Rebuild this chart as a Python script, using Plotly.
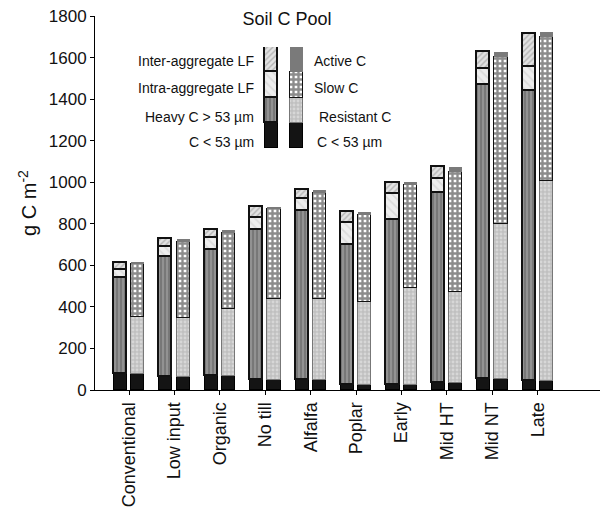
import plotly.graph_objects as go

# ---------------- data ----------------
categories = ["Conventional", "Low input", "Organic", "No till", "Alfalfa",
              "Poplar", "Early", "Mid HT", "Mid NT", "Late"]

# left bar (physical fractions), g C m-2
fine_c = [77, 61, 65, 50, 46, 22, 24, 36, 52, 42]          # C < 53 um
heavy_c = [461, 577, 610, 721, 817, 677, 795, 912, 1415, 1396]
intra_lf = [40, 50, 56, 59, 55, 105, 122, 69, 79, 116]
inter_lf = [35, 40, 40, 50, 46, 55, 55, 56, 80, 160]

# right bar (model pools), g C m-2
resistant_c = [273, 284, 324, 389, 393, 401, 469, 435, 748, 966]
slow_c = [257, 367, 366, 432, 509, 419, 495, 578, 803, 692]
active_c = [10, 15, 15, 12, 16, 16, 13, 24, 26, 22]

y_ticks = [0, 200, 400, 600, 800, 1000, 1200, 1400, 1600, 1800]

# ---------------- layout helpers ----------------
W, H = 608, 510
ML, MR, MT, MB = 95, 8, 16, 120
PW, PH = W - ML - MR, H - MT - MB


def px_x(px):
    return (px - ML) / PW


def px_y(py):
    return (H - MB - py) / PH


FONT = "Arial, Liberation Sans, sans-serif"
OFF = 0.19
BW = 0.29

styles = {
    "fine": dict(color="#141414", line=dict(color="#000000", width=1.5)),
    "heavy": dict(color="#808080",
                  pattern=dict(shape="|", fgcolor="#4e4e4e", bgcolor="#929292", size=4, solidity=0.4),
                  line=dict(color="#111111", width=1.8)),
    "intra": dict(color="#ececec",
                  pattern=dict(shape="\\", fgcolor="#c8c8c8", bgcolor="#eeeeee", size=6, solidity=0.3),
                  line=dict(color="#111111", width=1.8)),
    "inter": dict(color="#d8d8d8",
                  pattern=dict(shape="/", fgcolor="#858585", bgcolor="#e2e2e2", size=4, solidity=0.35),
                  line=dict(color="#111111", width=1.8)),
    "resistant": dict(color="#c8c8c8",
                      pattern=dict(shape=".", fgcolor="#eeeeee", bgcolor="#c0c0c0", size=4, solidity=0.4),
                      line=dict(color="#777777", width=1)),
    "slow": dict(color="#777777",
                 pattern=dict(shape="+", fgcolor="#1a1a1a", bgcolor="#ffffff", size=5, solidity=0.72),
                 line=dict(color="#111111", width=1.5)),
    "active": dict(color="#7a7a7a", line=dict(color="#7a7a7a", width=0)),
}

idx = list(range(len(categories)))
xl = [i - OFF for i in idx]
xr = [i + OFF for i in idx]

fig = go.Figure()

left_series = [("fine", fine_c), ("heavy", heavy_c), ("intra", intra_lf), ("inter", inter_lf)]
right_series = [("fine", fine_c), ("resistant", resistant_c), ("slow", slow_c), ("active", active_c)]

for key, vals in left_series:
    fig.add_trace(go.Bar(x=xl, y=vals, width=BW, marker=styles[key],
                         showlegend=False, hoverinfo="y"))
for key, vals in right_series:
    fig.add_trace(go.Bar(x=xr, y=vals, width=BW, marker=styles[key],
                         showlegend=False, hoverinfo="y"))

# ---------------- custom legend (mini stacked swatches) ----------------
leg_left = ["fine", "heavy", "intra", "inter"]
leg_right = ["fine", "resistant", "slow", "active"]
leg_left_txt = ["C < 53 µm", "Heavy C > 53 µm", "Intra-aggregate LF", "Inter-aggregate LF"]
leg_right_txt = ["C < 53 µm", "Resistant C", "Slow C", "Active C"]

for key in leg_left:
    fig.add_trace(go.Bar(x=[0], y=[1], width=[0.53], marker=styles[key], xaxis="x2", yaxis="y2",
                         showlegend=False, hoverinfo="skip"))
for key in leg_right:
    fig.add_trace(go.Bar(x=[1], y=[1], width=[0.5], marker=styles[key], xaxis="x2", yaxis="y2",
                         showlegend=False, hoverinfo="skip"))

# legend label positions (pixels)
left_label_y = [142, 117, 88, 61]
right_label_y = [142, 117, 88, 61]
right_label_x = [315, 317, 312, 312]
annotations = []
for txt, py in zip(leg_left_txt, left_label_y):
    annotations.append(dict(x=px_x(256), y=px_y(py), xref="paper", yref="paper", text=txt,
                            showarrow=False, xanchor="right", yanchor="middle",
                            font=dict(family=FONT, size=14, color="#111")))
for txt, py, pxx in zip(leg_right_txt, right_label_y, right_label_x):
    annotations.append(dict(x=px_x(pxx), y=px_y(py), xref="paper", yref="paper", text=txt,
                            showarrow=False, xanchor="left", yanchor="middle",
                            font=dict(family=FONT, size=14, color="#111")))

fig.update_layout(
    width=W, height=H,
    margin=dict(l=ML, r=MR, t=MT, b=MB),
    paper_bgcolor="white", plot_bgcolor="white",
    barmode="stack", bargap=0,
    font=dict(family=FONT, size=17, color="#111"),
    title=dict(text="Soil C Pool", x=287 / W, y=1 - 19 / H, xanchor="center", yanchor="middle",
               font=dict(family=FONT, size=18, color="#111")),
    xaxis=dict(range=[-0.75, 10.37], tickvals=idx, ticktext=categories, tickangle=-90,
               showline=True, linecolor="black", linewidth=1, ticks="outside", ticklen=4,
               tickcolor="black", showgrid=False, zeroline=False, automargin=False,
               tickfont=dict(family=FONT, size=18, color="#111")),
    yaxis=dict(range=[0, 1800], tickvals=y_ticks, showline=True, linecolor="black", linewidth=1,
               ticks="outside", ticklen=4, tickcolor="black", showgrid=False, zeroline=False,
               automargin=False,
               tickfont=dict(family=FONT, size=17, color="#111"),
               title=dict(text="g C m<sup>-2</sup>", standoff=6,
                          font=dict(family=FONT, size=20, color="#111"))),
    xaxis2=dict(domain=[px_x(256), px_x(311)], range=[-0.62, 1.59], visible=False,
                anchor="y2", fixedrange=True),
    yaxis2=dict(domain=[px_y(148), px_y(47)], range=[0, 4], visible=False,
                anchor="x2", fixedrange=True),
    annotations=annotations,
)

fig.write_html("out.html")
